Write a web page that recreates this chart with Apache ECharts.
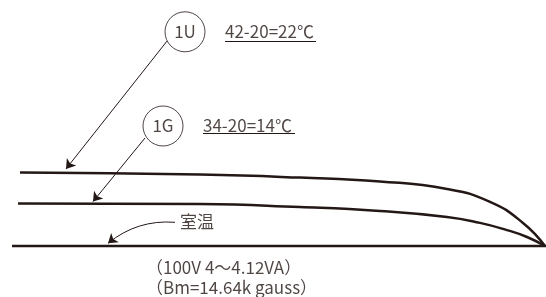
<!DOCTYPE html>
<html>
<head>
<meta charset="utf-8">
<script src="https://cdn.jsdelivr.net/npm/echarts@6/dist/echarts.min.js"></script>
<style>
  html, body { margin: 0; padding: 0; background: #fff; }
  #main { width: 546px; height: 297px; }
</style>
</head>
<body>
<div id="main"></div>
<script>
  var myChart = echarts.init(document.getElementById('main'));

  // x: 横方向の位置, y: 室温からの上昇(目盛なし, 図から読み取り)
  const curve1U = [[20,24.5],[200,23.8],[300,22.8],[380,21.5],[447,19],[490,14.7],[523,7.7],[545,0]];
  const curve1G = [[18,14.2],[200,14],[300,13],[380,11.7],[447,9.7],[480,7.7],[507,5.3],[527,3],[545,0]];
  const roomLine = [[12,0],[546,0]];

  const tagNames = ['1U', '1G'];
  const tagPoints = [[185,71.4],[163,40]];
  const riseTexts = ['42-20=22℃', '34-20=14℃'];
  const risePoints = [[225,71.4],[203,40]];
  const riseUnderlines = [[[225,68.1],[316,68.1]], [[203,37.6],[295,37.6]]];
  const leaders = [[[167,68.3],[66,25.7]], [[145,36],[93,14.8]]];
  const roomLeader = [[175,7.9],[108,0.9]];
  const roomText = '室温';
  const roomTextPoint = [180,8];
  const condTexts = ['（100V 4～4.12VA）', '（Bm=14.64k gauss）'];
  const condPoints = [[146,-7.3],[146,-14]];

  const ink = '#231815';
  const font = '"Noto Sans CJK JP", "Noto Sans", sans-serif';

  function textSeries(texts, points, size) {
    return {
      type: 'scatter',
      symbolSize: 1,
      itemStyle: { color: 'transparent' },
      silent: true,
      data: texts.map((t, i) => ({ name: t, value: points[i] })),
      label: {
        show: true,
        position: 'inside',
        align: 'left',
        verticalAlign: 'middle',
        formatter: '{b}',
        color: ink,
        fontFamily: font,
        fontSize: size
      }
    };
  }

  var option = {
    animation: false,
    grid: { left: 0, right: 0, top: 0, bottom: 0 },
    xAxis: { type: 'value', min: 0, max: 546, show: false },
    yAxis: { type: 'value', min: -17, max: 82, show: false },
    series: [
      {
        type: 'line', data: curve1U, smooth: true,
        symbol: 'none', lineStyle: { color: ink, width: 2.5 }
      },
      {
        type: 'line', data: curve1G, smooth: true,
        symbol: 'none', lineStyle: { color: ink, width: 2.5 }
      },
      {
        type: 'line', data: roomLine, symbol: 'none',
        lineStyle: { color: ink, width: 2.5 }
      },
      {
        type: 'scatter',
        symbol: 'circle',
        symbolSize: 40,
        itemStyle: { color: '#fff', borderColor: ink, borderWidth: 1 },
        data: tagNames.map((t, i) => ({ name: t, value: tagPoints[i] })),
        label: {
          show: true, position: 'inside', formatter: '{b}',
          color: ink, fontFamily: font, fontSize: 17
        }
      },
      textSeries(riseTexts, risePoints, 17),
      textSeries([roomText], [roomTextPoint], 17),
      textSeries(condTexts, condPoints, 17),
      {
        type: 'lines',
        coordinateSystem: 'cartesian2d',
        symbol: 'none',
        lineStyle: { color: ink, width: 1, opacity: 1 },
        data: riseUnderlines.map(c => ({ coords: c }))
      },
      {
        type: 'lines',
        coordinateSystem: 'cartesian2d',
        symbol: ['none', 'arrow'],
        symbolSize: 9,
        lineStyle: { color: ink, width: 1, opacity: 1 },
        data: leaders.map(c => ({ coords: c }))
      },
      {
        type: 'lines',
        coordinateSystem: 'cartesian2d',
        symbol: ['none', 'arrow'],
        symbolSize: 9,
        lineStyle: { color: ink, width: 1, opacity: 1, curveness: -0.2 },
        data: [{ coords: roomLeader }]
      }
    ]
  };

  myChart.setOption(option);
</script>
</body>
</html>
